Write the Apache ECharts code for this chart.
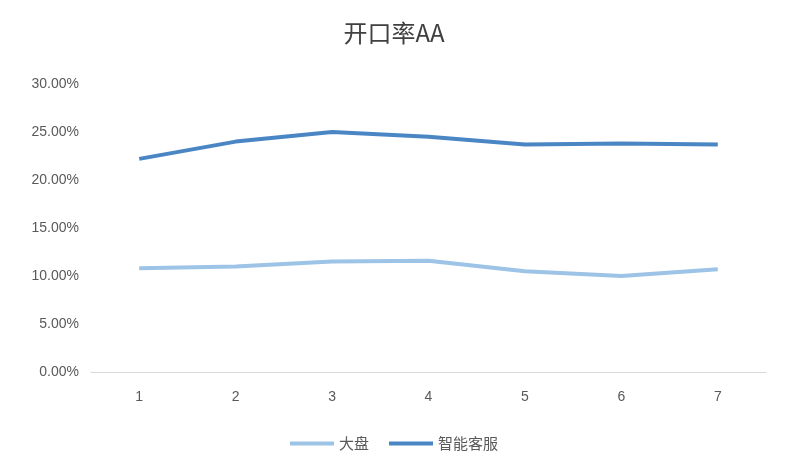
<!DOCTYPE html>
<html>
<head>
<meta charset="utf-8">
<script src="https://cdn.jsdelivr.net/npm/echarts@6/dist/echarts.min.js"></script>
<style>html,body{margin:0;padding:0;background:#fff}#main{width:788px;height:474px}</style>
</head>
<body>
<div id="main"></div>
<script>
var categories = ['1', '2', '3', '4', '5', '6', '7'];
var dapan = [10.8, 11.0, 11.5, 11.6, 10.5, 10.0, 10.7];
var zhineng = [22.2, 24.0, 25.0, 24.5, 23.7, 23.8, 23.7];

var chart = echarts.init(document.getElementById('main'));
var option = {
	backgroundColor: '#fff',
	color: ['#9dc3e6', '#4a86c4'],
	title: {
		text: '开口率AA',
		left: 'center',
		top: 16,
		textStyle: {fontFamily: 'Noto Sans CJK SC', fontSize: 24, fontWeight: 'normal', color: '#404040'}
	},
	grid: {left: 91, right: 22, top: 84, bottom: 102},
	legend: {
		bottom: 18,
		itemWidth: 44,
		itemHeight: 4,
		itemGap: 20,
		icon: 'rect',
		textStyle: {fontFamily: 'Noto Sans CJK SC', fontSize: 15, color: '#595959'},
		data: ['大盘', '智能客服']
	},
	xAxis: {
		type: 'category',
		data: categories,
		axisLine: {lineStyle: {color: '#d9d9d9'}},
		axisTick: {show: false},
		axisLabel: {color: '#595959', fontSize: 14, margin: 18}
	},
	yAxis: {
		type: 'value',
		min: 0,
		max: 30,
		interval: 5,
		axisLine: {show: false},
		axisTick: {show: false},
		splitLine: {show: false},
		axisLabel: {
			color: '#595959', fontSize: 14, margin: 12,
			formatter: function(v){ return v.toFixed(2) + '%'; }
		}
	},
	series: [{
		name: '大盘',
		type: 'line',
		data: dapan,
		symbol: 'none',
		lineStyle: {width: 4}
	}, {
		name: '智能客服',
		type: 'line',
		data: zhineng,
		symbol: 'none',
		lineStyle: {width: 4}
	}]
};
chart.setOption(option);
</script>
</body>
</html>
